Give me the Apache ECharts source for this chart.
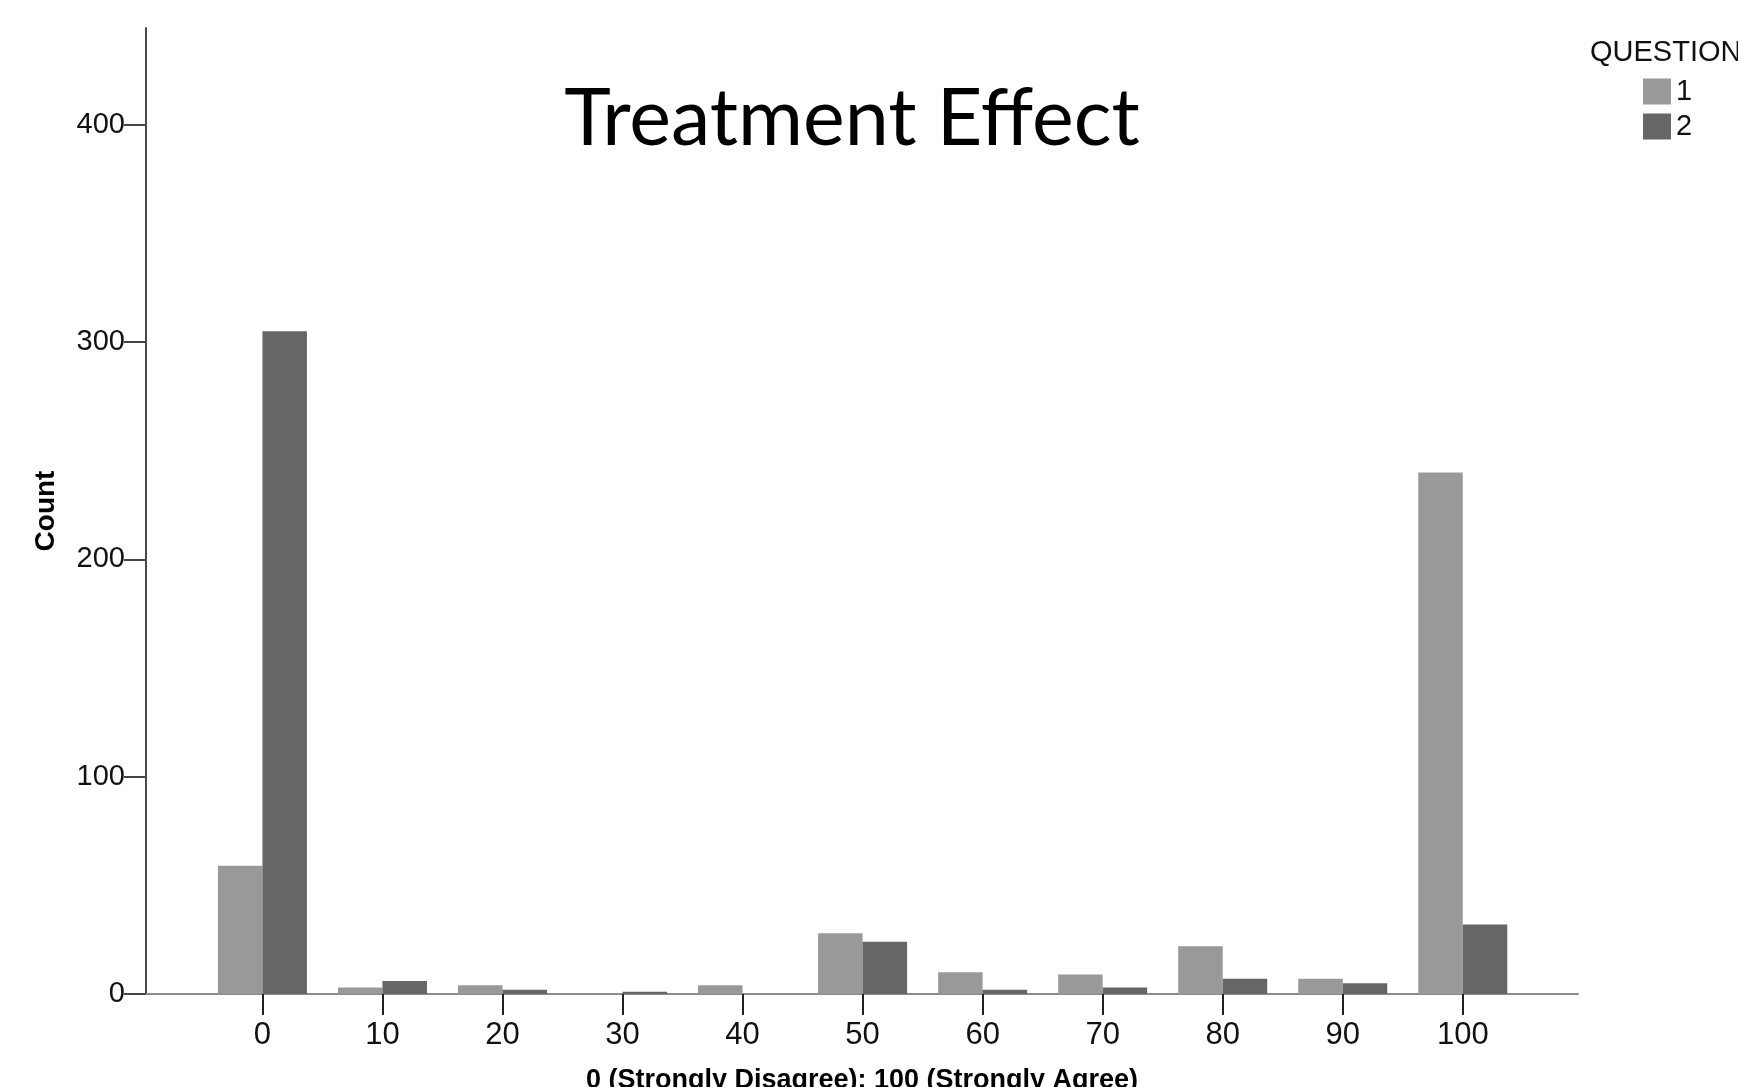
<!DOCTYPE html>
<html>
<head>
<meta charset="utf-8">
<style>
  html, body { margin: 0; padding: 0; background: #ffffff; }
  #chart { width: 1738px; height: 1087px; }
</style>
<script src="https://cdn.jsdelivr.net/npm/echarts@6/dist/echarts.min.js"></script>
</head>
<body>
<div id="chart"></div>
<script>
// ---- data ----
var categories = [0, 10, 20, 30, 40, 50, 60, 70, 80, 90, 100];
var question1 = [59, 3, 4, 0, 4, 28, 10, 9, 22, 7, 240];
var question2 = [305, 6, 2, 1, 0, 24, 2, 3, 7, 5, 32];
var yTicks = [0, 100, 200, 300, 400];
var seriesNames = ['1', '2'];

var chart = echarts.init(document.getElementById('chart'), null, { renderer: 'canvas' });

function pairs(vals) {
  return categories.map(function (c, i) { return [c, vals[i]]; });
}

var option = {
  backgroundColor: '#ffffff',
  animation: false,
  title: {
    text: 'Treatment Effect',
    left: 852,
    textAlign: 'center',
    top: 80,
    padding: 0,
    textStyle: { fontFamily: 'Lato', fontWeight: 'normal', fontSize: 79, color: '#000000' }
  },
  graphic: [{
    type: 'text',
    left: 1590,
    top: 38,
    style: { text: 'QUESTION', fontFamily: 'Liberation Sans', fontSize: 29, fill: '#111111' }
  }],
  legend: {
    orient: 'vertical',
    left: 1643,
    top: 77,
    padding: 0,
    itemWidth: 28,
    itemHeight: 26,
    itemGap: 6,
    icon: 'rect',
    data: seriesNames,
    textStyle: { fontFamily: 'Liberation Sans', fontSize: 29, color: '#111111' }
  },
  grid: { left: 146, right: 160, top: 28, bottom: 93, containLabel: false, outerBoundsMode: 'none' },
  xAxis: {
    type: 'value',
    min: -9.7,
    max: 109.6,
    name: '0 (Strongly Disagree): 100 (Strongly Agree)',
    nameLocation: 'middle',
    nameGap: 73,
    nameTextStyle: { fontFamily: 'Liberation Sans', fontWeight: 'bold', fontSize: 27, color: '#000000' },
    axisLine: { show: true, onZero: false, lineStyle: { color: '#8c8c8c', width: 2 } },
    axisTick: { show: true, customValues: categories, length: 21, lineStyle: { color: '#222222', width: 2 } },
    axisLabel: {
      customValues: categories,
      margin: 26,
      fontFamily: 'Liberation Sans',
      fontSize: 31,
      color: '#111111'
    },
    splitLine: { show: false }
  },
  yAxis: {
    type: 'value',
    min: 0,
    max: 444.6,
    name: 'Count',
    nameLocation: 'middle',
    nameGap: 86,
    nameRotate: 90,
    nameTextStyle: { fontFamily: 'Liberation Sans', fontWeight: 'bold', fontSize: 28, color: '#000000' },
    axisLine: { show: true, onZero: false, lineStyle: { color: '#4a4a4a', width: 2 } },
    axisTick: { show: true, customValues: yTicks, length: 22, lineStyle: { color: '#444444', width: 2 } },
    axisLabel: {
      customValues: yTicks,
      margin: 21,
      fontFamily: 'Liberation Sans',
      fontSize: 29,
      color: '#111111'
    },
    splitLine: { show: false }
  },
  series: [
    {
      name: seriesNames[0],
      type: 'bar',
      barWidth: 44.5,
      barGap: '0%',
      itemStyle: { color: '#999999' },
      data: pairs(question1)
    },
    {
      name: seriesNames[1],
      type: 'bar',
      barWidth: 44.5,
      barGap: '0%',
      itemStyle: { color: '#666666' },
      data: pairs(question2)
    }
  ]
};

chart.setOption(option);
</script>
</body>
</html>
